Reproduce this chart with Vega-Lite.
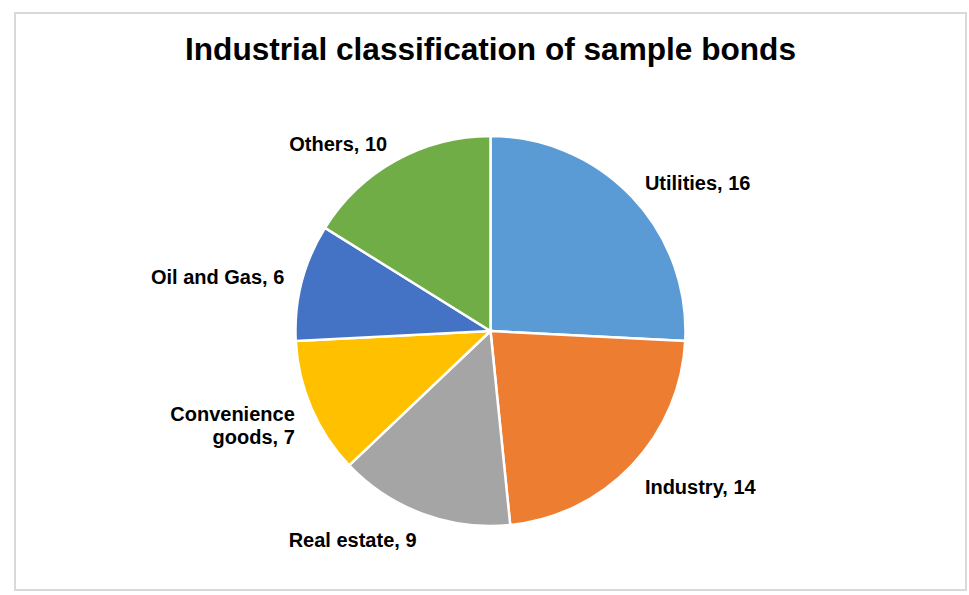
{
  "$schema": "https://vega.github.io/schema/vega-lite/v6.json",
  "width": 969,
  "height": 595,
  "autosize": {"type": "fit", "contains": "padding"},
  "padding": {"left": 15, "top": 13, "right": 3, "bottom": 5},
  "background": "white",
  "view": {"stroke": "#d9d9d9", "strokeWidth": 2},
  "config": {
    "view": {"stroke": "#d9d9d9", "strokeWidth": 2},
    "style": {"cell": {"stroke": "#d9d9d9", "strokeWidth": 2}},
    "font": "Liberation Sans"
  },
  "title": {
    "text": "Industrial classification of sample bonds",
    "font": "Liberation Sans",
    "fontSize": 31.6,
    "fontWeight": "bold",
    "color": "#000000",
    "anchor": "middle",
    "baseline": "alphabetic",
    "offset": -79
  },
  "data": {
    "values": [
      {"category": "Utilities", "count": 16, "rank": 1, "label": "Utilities, 16"},
      {"category": "Industry", "count": 14, "rank": 2, "label": "Industry, 14"},
      {"category": "Real estate", "count": 9, "rank": 3, "label": "Real estate, 9"},
      {"category": "Convenience goods", "count": 7, "rank": 4, "label": "Convenience\ngoods, 7"},
      {"category": "Oil and Gas", "count": 6, "rank": 5, "label": "Oil and Gas, 6"},
      {"category": "Others", "count": 10, "rank": 6, "label": "Others, 10"}
    ]
  },
  "encoding": {
    "theta": {"field": "count", "type": "quantitative", "stack": true},
    "order": {"field": "rank", "type": "quantitative"}
  },
  "layer": [
    {
      "mark": {"type": "arc", "outerRadius": 195, "stroke": "white", "strokeWidth": 2.5, "yOffset": 29.5},
      "encoding": {
        "color": {
          "field": "category",
          "type": "nominal",
          "scale": {
            "domain": ["Utilities", "Industry", "Real estate", "Convenience goods", "Oil and Gas", "Others"],
            "range": ["#5B9BD5", "#ED7D31", "#A5A5A5", "#FFC000", "#4472C4", "#70AD47"]
          },
          "legend": null
        }
      }
    },
    {
      "mark": {
        "type": "text",
        "radius": 213,
        "yOffset": 29.5,
        "font": "Liberation Sans",
        "fontSize": 20,
        "fontWeight": "bold",
        "color": "#000000",
        "lineBreak": "\n",
        "lineHeight": 23,
        "align": {"expr": "(datum.category === 'Utilities' || datum.category === 'Industry') ? 'left' : 'right'"},
        "baseline": {"expr": "(datum.category === 'Industry' || datum.category === 'Real estate') ? 'top' : 'middle'"}
      },
      "encoding": {
        "text": {"field": "label", "type": "nominal"}
      }
    }
  ]
}
